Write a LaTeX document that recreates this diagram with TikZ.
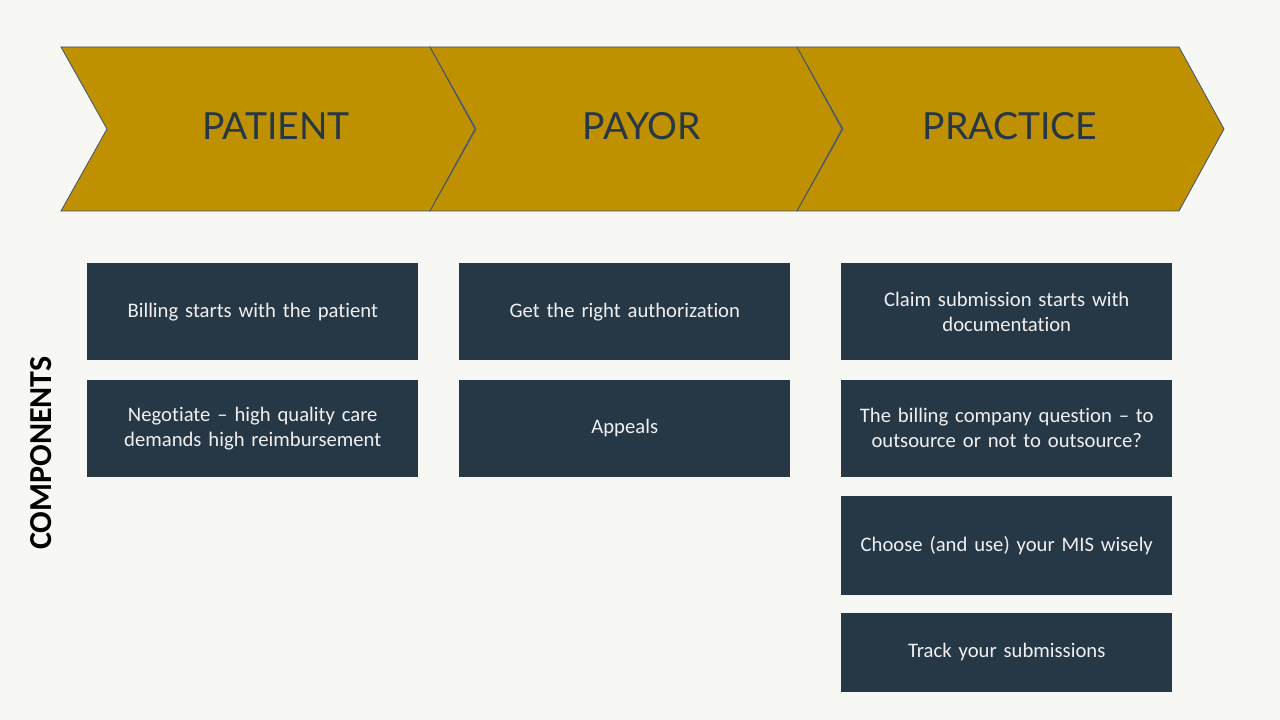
\documentclass[tikz,border=0pt]{standalone}
\usepackage{fontspec}
\setmainfont{Carlito}[Ligatures={NoCommon}]
\newfontfamily\headfont{Lato}
\usetikzlibrary{positioning}
\definecolor{bgcol}{HTML}{F7F7F3}
\definecolor{gold}{HTML}{BF9000}
\definecolor{slate}{HTML}{263746}
\definecolor{edgeblue}{HTML}{3F5276}
\tikzset{
    x=0.75pt,y=-0.75pt,node distance =14.25pt and 1 cm,
    chev/.style ={fill=gold, draw=edgeblue, line width=0.6pt},
    head/.style = {text=slate, inner sep=0pt, font=\headfont\fontsize{28}{32}\selectfont},
    card/.style = {rectangle, fill=slate, text=white!94!black, inner sep=0pt, anchor=north west,
                   minimum width=248.25pt, minimum height=72.75pt, text width=240pt, align=center,
                   font=\fontsize{15.5}{18.75}\selectfont}
}

\begin{document}
\begin{tikzpicture}
    \fill[bgcol] (0,0) rectangle (1280,720);
    % chevrons
    \foreach \a/\b/\c in {61/430/475, 430/797/842, 797/1179/1224}
        \draw[chev] (\a,47) -- (\b,47) -- (\c,129) -- (\b,211) -- (\a,211) -- (\a+46,129) -- cycle;
    \node[head] (patient) at (276,126) {PATIENT};
    \node[head] (payor) at (642,126) {PAYOR};
    \node[head] (practice) at (1010,126) {PRACTICE};

    \node[rotate=90, inner sep=0pt, font=\bfseries\fontsize{24}{28}\selectfont] (comp) at (41,453) {COMPONENTS};

    % patient column
    \node[card] (pat1) at (87,263) {Billing starts with the patient};
    \node[card, below=of pat1.south west, anchor=north west] (pat2) {Negotiate -- high quality care\\demands high reimbursement};
    % payor column
    \node[card] (pay1) at (459,263) {Get the right authorization};
    \node[card, below=of pay1.south west, anchor=north west] (pay2) {Appeals};
    % practice column
    \node[card] (pra1) at (841,263) {Claim submission starts with\\documentation};
    \node[card, below=of pra1.south west, anchor=north west] (pra2) {The billing company question -- to\\outsource or not to outsource?};
    \node[card, minimum height=74.25pt] (pra3) at (841,496) {Choose (and use) your MIS wisely};
    \node[card, below=12.75pt of pra3.south west, anchor=north west, minimum height=59.25pt] (pra4) {Track your submissions};
\end{tikzpicture}
\end{document}
